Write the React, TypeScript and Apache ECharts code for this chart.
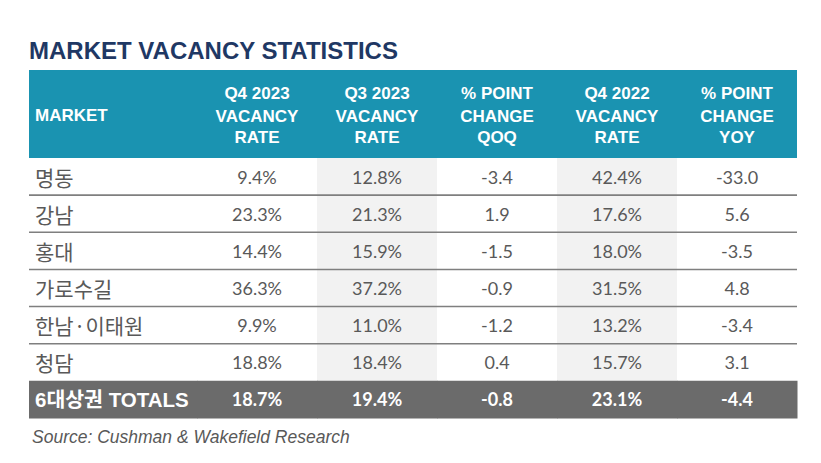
import React, { useEffect, useRef } from "react";
import * as echarts from "echarts";

const title = "MARKET VACANCY STATISTICS";
const marketHeader = "MARKET";
const columnHeaders = [
  ["Q4 2023", "VACANCY", "RATE"],
  ["Q3 2023", "VACANCY", "RATE"],
  ["% POINT", "CHANGE", "QOQ"],
  ["Q4 2022", "VACANCY", "RATE"],
  ["% POINT", "CHANGE", "YOY"],
];
const columnIsRate = [true, true, false, true, false];
const markets = ["명동", "강남", "홍대", "가로수길", "한남·이태원", "청담"];
const totalLabel = "6대상권 TOTALS";
const q4_2023 = [9.4, 23.3, 14.4, 36.3, 9.9, 18.8];
const q3_2023 = [12.8, 21.3, 15.9, 37.2, 11.0, 18.4];
const qoq = [-3.4, 1.9, -1.5, -0.9, -1.2, 0.4];
const q4_2022 = [42.4, 17.6, 18.0, 31.5, 13.2, 15.7];
const yoy = [-33.0, 5.6, -3.5, 4.8, -3.4, 3.1];
const totals = [18.7, 19.4, -0.8, 23.1, -4.4];
const source = "Source: Cushman & Wakefield Research";

const X_MIN = -1.9;
const X_MAX = 4.5;

const TEAL = "#1a93b1";
const NAVY = "#1f3864";
const TEXT = "#595959";
const SHADE = "#f2f2f2";
const TOTAL_BG = "#6b6b6b";
const LINE = "#7f7f7f";

type Cell = { col: number; row: number; text: string };

function fmt(v: number, rate: boolean) {
  return v.toFixed(1) + (rate ? "%" : "");
}

function buildCells(): Cell[] {
  const cols = [q4_2023, q3_2023, qoq, q4_2022, yoy];
  const cells: Cell[] = [];
  markets.forEach((m, r) => {
    cells.push({ col: -1, row: r, text: m });
    cols.forEach((arr, c) => cells.push({ col: c, row: r, text: fmt(arr[r], columnIsRate[c]) }));
  });
  const tr = markets.length;
  cells.push({ col: -1, row: tr, text: totalLabel });
  totals.forEach((v, c) => cells.push({ col: c, row: tr, text: fmt(v, columnIsRate[c]) }));
  return cells;
}

export default function App() {
  const ref = useRef<HTMLDivElement>(null);
  useEffect(() => {
    if (!ref.current) return;
    const chart = echarts.init(ref.current, null, { renderer: "svg" });
    const cells = buildCells();
    const totalRow = markets.length;

    const renderItem = (params: any, api: any) => {
      const cell = cells[params.dataIndex];
      const [cx, cy] = api.coord([cell.col, cell.row]);
      const [uw, bh] = api.size([1, 1]);
      const isTotal = cell.row === totalRow;
      let left: number, width: number;
      if (cell.col < 0) {
        left = api.coord([X_MIN, cell.row])[0];
        width = api.coord([-0.5, cell.row])[0] - left;
      } else {
        left = cx - uw / 2;
        width = uw;
      }
      const top = cy - bh / 2;
      const children: any[] = [];
      let fill = "#ffffff";
      if (isTotal) fill = TOTAL_BG;
      else if (cell.col === 1 || cell.col === 3) fill = SHADE;
      children.push({
        type: "rect",
        shape: { x: left, y: top, width: width + 0.5, height: bh + 0.5 },
        style: { fill },
        z2: 1,
      });
      if (!isTotal && cell.row < totalRow - 1) {
        children.push({
          type: "line",
          shape: { x1: left, y1: top + bh, x2: left + width, y2: top + bh },
          style: { stroke: LINE, lineWidth: 1.6 },
          z2: 5,
        });
      }
      if (cell.col < 0) {
        children.push({
          type: "text",
          x: left + 6,
          y: cy,
          style: {
            text: cell.text,
            fill: isTotal ? "#ffffff" : TEXT,
            fontFamily: isTotal ? "'Liberation Sans', Arial, 'Noto Sans CJK KR'" : "'Noto Sans CJK KR'",
            fontWeight: isTotal ? "bold" : "normal",
            fontSize: isTotal ? 20.5 : 21,
            align: "left",
            verticalAlign: "middle",
          },
          z2: 10,
        });
      } else {
        children.push({
          type: "text",
          x: cx,
          y: cy,
          style: {
            text: cell.text,
            fill: isTotal ? "#ffffff" : TEXT,
            fontFamily: "Lato, 'Noto Sans'",
            fontWeight: isTotal ? "bold" : "normal",
            fontSize: 18,
            align: "center",
            verticalAlign: "middle",
          },
          z2: 10,
        });
      }
      return { type: "group", children };
    };

    chart.setOption({
      animation: false,
      grid: { left: 29, top: 158, width: 768, height: 260 },
      xAxis: { type: "value", min: X_MIN, max: X_MAX, show: false, splitLine: { show: false } },
      yAxis: {
        type: "category",
        data: [...markets, totalLabel],
        inverse: true,
        show: false,
      },
      series: [
        {
          type: "custom",
          renderItem,
          data: cells.map((c) => [c.col, c.row]),
          encode: { x: 0, y: 1 },
        },
      ],
    });

    const centers = columnHeaders.map((_, c) => chart.convertToPixel({ xAxisIndex: 0 }, c) as number);
    const headerLineYs = [93, 116, 137];
    const headerFont = {
      fill: "#ffffff",
      fontFamily: "'Liberation Sans', Arial",
      fontWeight: "bold",
      fontSize: 17,
      verticalAlign: "middle",
    };
    const graphic: any[] = [
      {
        type: "text",
        x: 29,
        y: 50,
        style: {
          text: title,
          fill: NAVY,
          fontFamily: "'Liberation Sans', Arial",
          fontWeight: "bold",
          fontSize: 24,
          verticalAlign: "middle",
        },
      },
      {
        type: "rect",
        shape: { x: 29, y: 70, width: 768, height: 88 },
        style: { fill: TEAL },
      },
      {
        type: "text",
        x: 35,
        y: 115,
        style: { ...headerFont, text: marketHeader, align: "left" },
      },
      {
        type: "text",
        x: 32,
        y: 437,
        style: {
          text: source,
          fill: TEXT,
          fontFamily: "'Liberation Sans', Arial",
          fontStyle: "italic",
          fontSize: 17.5,
          verticalAlign: "middle",
        },
      },
    ];
    columnHeaders.forEach((lines, c) => {
      lines.forEach((t, i) => {
        graphic.push({
          type: "text",
          x: centers[c],
          y: headerLineYs[i],
          style: { ...headerFont, text: t, align: "center" },
        });
      });
    });
    chart.setOption({ graphic });

    return () => chart.dispose();
  }, []);
  return (
    <div
      ref={ref}
      style={{ position: "fixed", left: 0, top: 0, width: 821, height: 463, background: "#ffffff" }}
    />
  );
}
